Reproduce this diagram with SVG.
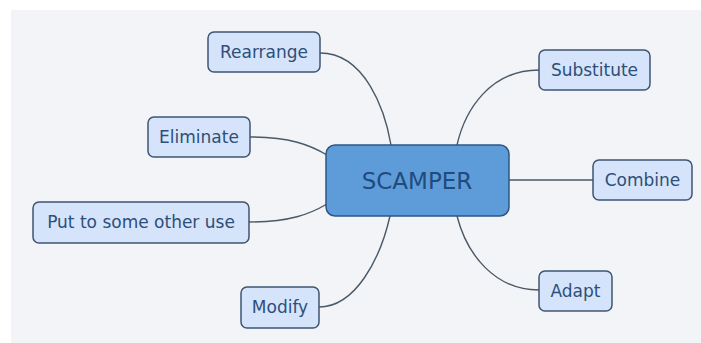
<svg xmlns="http://www.w3.org/2000/svg" width="701" height="343" viewBox="0 0 701 343">
<style>
.bg{fill:#f2f4f7}
.node rect{fill:#d5e3fb;stroke:#3f5572;stroke-width:1.5}
.node text{font-family:"DejaVu Sans",Verdana,sans-serif;font-size:17px;fill:#2d4f78;text-anchor:middle}
.root rect{fill:#5e9cd9;stroke:#2d5685;stroke-width:1.5}
.root text{font-family:"DejaVu Sans",Verdana,sans-serif;font-size:23px;fill:#1f4b7d;text-anchor:middle}
#connectors path{fill:none;stroke:#4a5868;stroke-width:1.4}
</style>
<rect x="0" y="0" width="701" height="343" fill="#ffffff"/>
<rect class="bg" x="11" y="10" width="690" height="333"/>
<g id="connectors">
<path d="M320,53 C365,53 385,110 391,145"/>
<path d="M457,145 C465,110 490,70 539,70"/>
<path d="M250,137 C290,137 310,145 327,155"/>
<path d="M249,222 C290,222 310,214 327,204"/>
<path d="M319,307 C355,307 380,260 390,216"/>
<path d="M457,216 C467,255 495,290 539,290"/>
<path d="M509,180 L593,180"/>
</g>
<g id="scamper" class="root">
<rect x="326" y="145" width="183" height="71" rx="9"/>
<text x="417" y="189">SCAMPER</text>
</g>
<g id="rearrange" class="node">
<rect x="208" y="32" width="112" height="40" rx="6"/>
<text x="264" y="58">Rearrange</text>
</g>
<g id="eliminate" class="node">
<rect x="148" y="117" width="102" height="40" rx="6"/>
<text x="199" y="143">Eliminate</text>
</g>
<g id="put-to-other-use" class="node">
<rect x="33" y="202" width="216" height="41" rx="6"/>
<text x="141" y="228">Put to some other use</text>
</g>
<g id="modify" class="node">
<rect x="241" y="287" width="78" height="41" rx="6"/>
<text x="280" y="313">Modify</text>
</g>
<g id="substitute" class="node">
<rect x="539" y="50" width="111" height="40" rx="6"/>
<text x="594.5" y="76">Substitute</text>
</g>
<g id="combine" class="node">
<rect x="593" y="160" width="99" height="40" rx="6"/>
<text x="642.5" y="186">Combine</text>
</g>
<g id="adapt" class="node">
<rect x="539" y="271" width="73" height="40" rx="6"/>
<text x="575.5" y="297">Adapt</text>
</g>
</svg>
